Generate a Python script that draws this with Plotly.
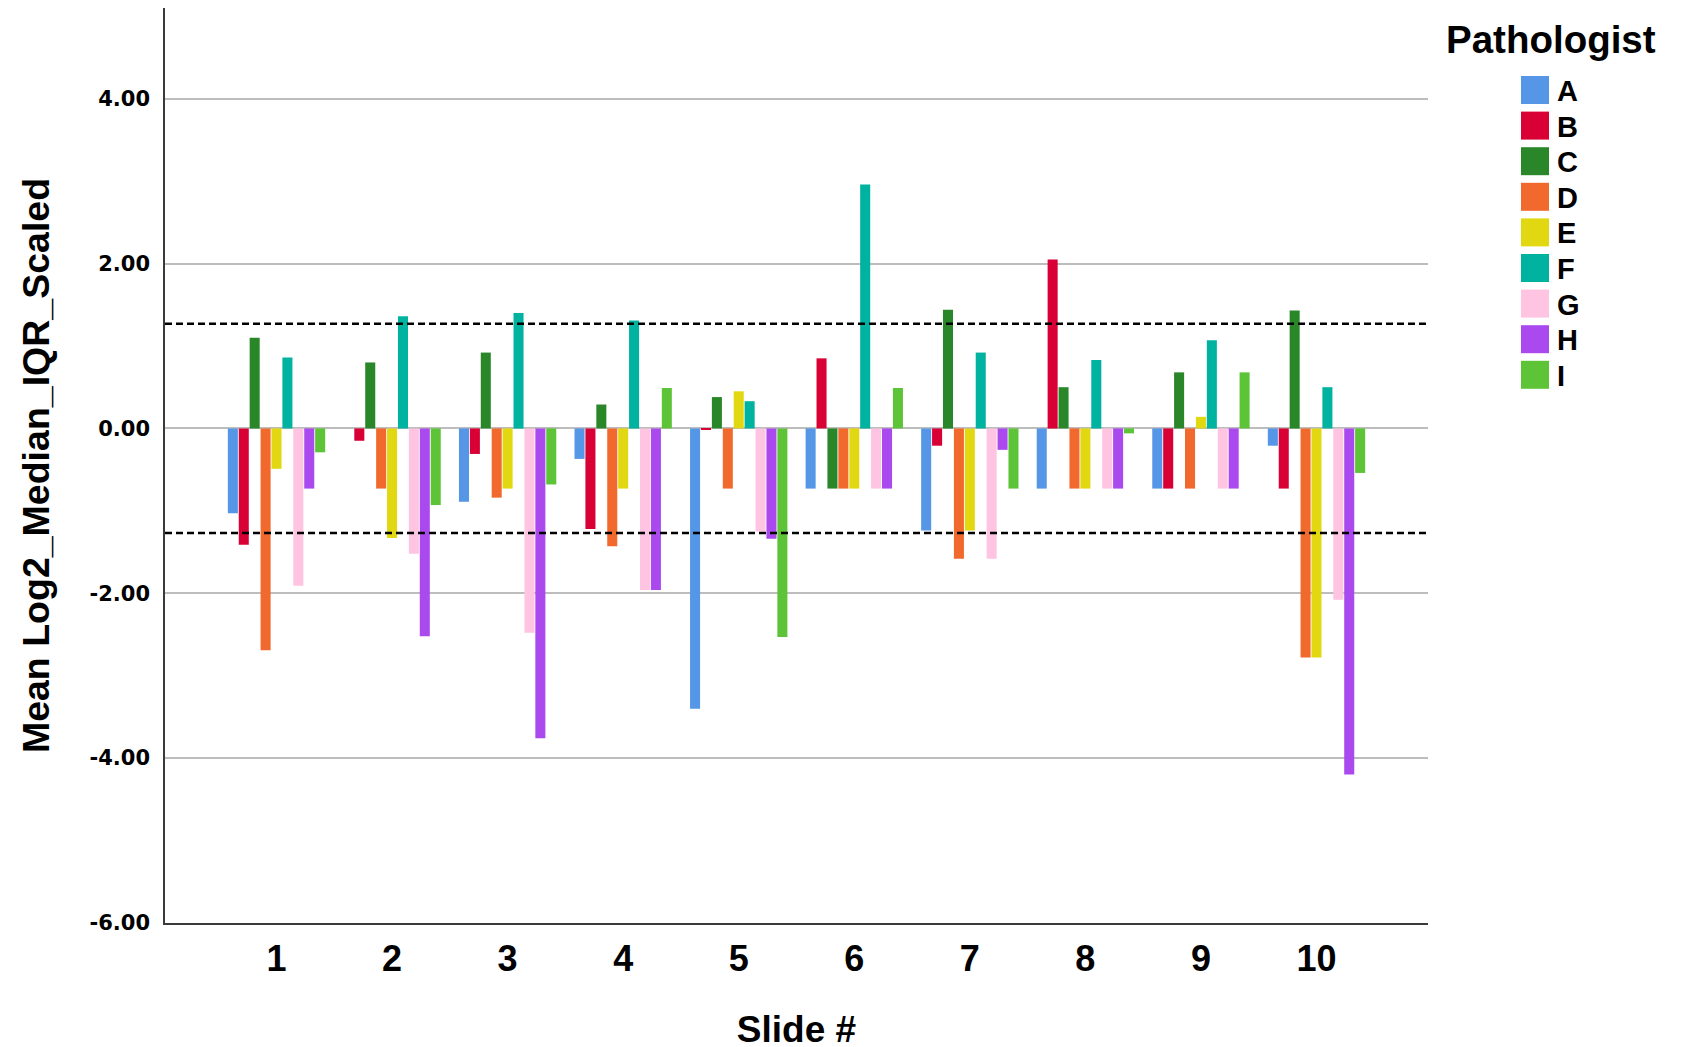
import plotly.graph_objects as go

# ---------------- data ----------------
slides = ["1", "2", "3", "4", "5", "6", "7", "8", "9", "10"]
pathologists = ["A", "B", "C", "D", "E", "F", "G", "H", "I"]
colors = ["#5596E6", "#D80034", "#29872A", "#F2692E", "#E2D811",
          "#00B3A0", "#FEC4E1", "#AA4AEE", "#5DC437"]

A = [-1.03, None, -0.89, -0.37, -3.40, -0.73, -1.24, -0.73, -0.73, -0.21]
B = [-1.41, -0.15, -0.31, -1.22, -0.01, 0.85, -0.21, 2.05, -0.73, -0.73]
C = [1.10, 0.80, 0.92, 0.29, 0.38, -0.73, 1.44, 0.50, 0.68, 1.43]
D = [-2.69, -0.73, -0.84, -1.43, -0.73, -0.73, -1.58, -0.73, -0.73, -2.78]
E = [-0.49, -1.33, -0.73, -0.73, 0.45, -0.73, -1.24, -0.73, 0.14, -2.78]
F = [0.86, 1.36, 1.40, 1.31, 0.33, 2.96, 0.92, 0.83, 1.07, 0.50]
G = [-1.91, -1.52, -2.48, -1.96, -1.25, -0.73, -1.58, -0.73, -0.73, -2.08]
H = [-0.73, -2.52, -3.76, -1.96, -1.34, -0.73, -0.26, -0.73, -0.73, -4.20]
I = [-0.29, -0.93, -0.68, 0.49, -2.53, 0.49, -0.73, -0.06, 0.68, -0.54]
series = [A, B, C, D, E, F, G, H, I]

thresholds = [1.27, -1.27]
y_tick_vals = [-6, -4, -2, 0, 2, 4]
y_tick_labels = ["-6.00", "-4.00", "-2.00", "0.00", "2.00", "4.00"]

# ---------------- layout constants ----------------
W, Hh = 1688, 1047
OFF = 8  # page offset of the figure div (body margin)
ML, MR, MT, MB = 157, 268, 0, 132
PW, PH = W - ML - MR, Hh - MT - MB


def px_x(px):  # page pixel -> paper x
    return (px - OFF - ML) / PW


def px_y(py):  # page pixel -> paper y
    return 1 - (py - OFF - MT) / PH


FONT = "Liberation Sans, Arial, Helvetica, sans-serif"

fig = go.Figure()
for name, vals, col in zip(pathologists, series, colors):
    fig.add_trace(go.Bar(x=slides, y=vals, name=name, marker_color=col,
                         marker_line_width=0, showlegend=False))

shapes = []
for t in thresholds:
    shapes.append(dict(type="line", xref="paper", x0=0, x1=1, yref="y", y0=t, y1=t,
                       line=dict(color="black", width=2.5, dash="7px,4px"), layer="above"))

# manual legend (large square swatches)
annotations = [dict(text="<b>Pathologist</b>", xref="paper", yref="paper",
                    x=px_x(1444), y=px_y(40), xanchor="left", yanchor="middle",
                    showarrow=False, font=dict(family=FONT, size=38.5, color="black"))]
for i, (name, col) in enumerate(zip(pathologists, colors)):
    cy = 90 + i * 35.6
    shapes.append(dict(type="rect", xref="paper", yref="paper",
                       x0=px_x(1521), x1=px_x(1549), y0=px_y(cy - 14), y1=px_y(cy + 14),
                       fillcolor=col, line=dict(width=0)))
    annotations.append(dict(text="<b>%s</b>" % name, xref="paper", yref="paper",
                            x=px_x(1555), y=px_y(cy + 1), xanchor="left", yanchor="middle",
                            showarrow=False, font=dict(family=FONT, size=29, color="black")))

fig.update_layout(
    width=W, height=Hh,
    margin=dict(l=ML, r=MR, t=MT, b=MB, pad=0),
    plot_bgcolor="white", paper_bgcolor="white",
    barmode="group", bargap=0.15, bargroupgap=0.08,
    shapes=shapes, annotations=annotations,
    showlegend=False,
    xaxis=dict(type="category", range=[-0.965, 9.965], showgrid=False,
               showline=True, linecolor="#3a3a3a", linewidth=1.5,
               ticks="", ticklabelstandoff=3,
               tickfont=dict(family=FONT, size=36, color="black", weight="bold"),
               title=dict(text="<b>Slide #</b>", standoff=38,
                          font=dict(family=FONT, size=37, color="black"))),
    yaxis=dict(range=[-6, 5.10], tickvals=y_tick_vals, ticktext=y_tick_labels,
               showgrid=True, gridcolor="#BDBDBD", gridwidth=1.8, zeroline=False,
               showline=True, linecolor="#3a3a3a", linewidth=1.5,
               ticks="", ticklabelstandoff=9,
               tickfont=dict(family="DejaVu Sans, sans-serif", size=21, color="black",
                             weight="bold"),
               title=dict(text="<b>Mean Log2_Median_IQR_Scaled</b>", standoff=28,
                          font=dict(family=FONT, size=37.5, color="black"))),
)

fig.write_html("out.html")
